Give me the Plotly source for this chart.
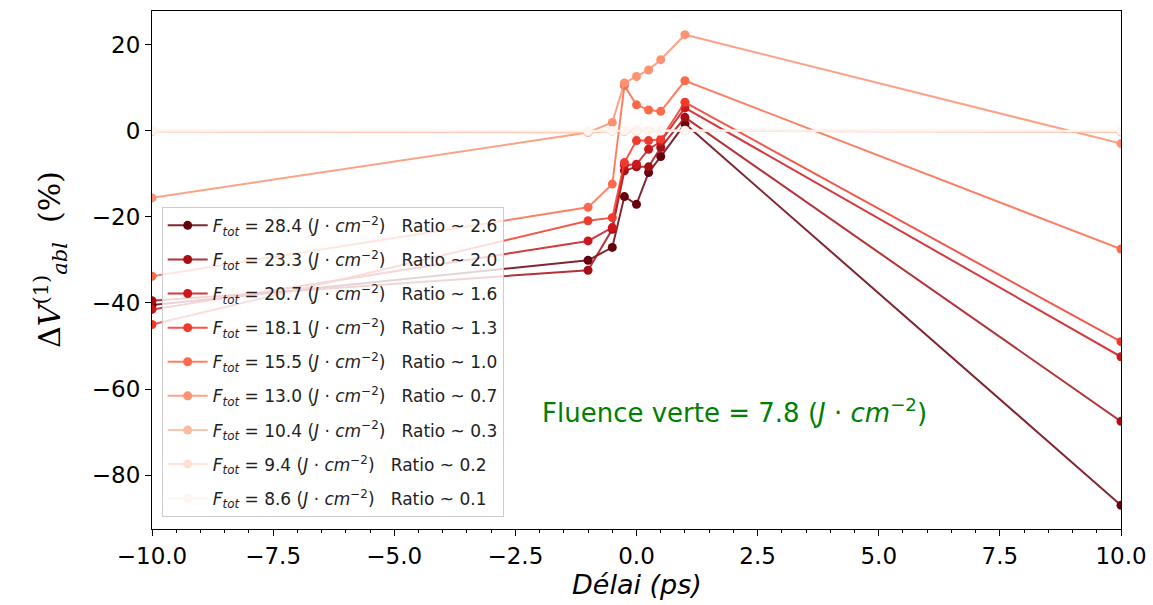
import plotly.graph_objects as go

# délai pompe-sonde (ps)
delai = [-10, -1, -0.5, -0.25, 0, 0.25, 0.5, 1, 10]

# variation du volume ablaté (%) pour chaque fluence totale
f_284 = [-40.5, -30.1, -27.1, -15.3, -17.1, -9.7, -6.0, 1.6, -87.0]
f_233 = [-39.5, -32.4, -22.9, -9.3, -8.4, -8.4, -3.9, 3.1, -67.5]
f_207 = [-41.5, -25.6, -22.5, -8.0, -7.8, -4.3, -2.5, 5.3, -52.5]
f_181 = [-45.0, -20.9, -20.2, -7.4, -2.3, -2.3, -2.0, 6.6, -49.0]
f_155 = [-33.8, -17.8, -12.4, 10.5, 6.0, 4.8, 4.5, 11.6, -27.5]
f_130 = [-15.6, -0.4, 1.9, 11.1, 12.6, 14.1, 16.5, 22.3, -3.0]
f_104 = [-0.2, -0.4, -0.1, -0.2, -0.1, 0.0, -0.1, 0.0, -0.3]
f_094 = [0.0, -0.2, 0.0, 0.0, 0.1, 0.0, 0.0, 0.1, -0.1]
f_086 = [0.0, 0.0, 0.0, 0.0, 0.0, 0.0, 0.0, 0.0, 0.0]

fluences = ["28.4", "23.3", "20.7", "18.1", "15.5", "13.0", "10.4", "9.4", "8.6"]
ratios = ["2.6", "2.0", "1.6", "1.3", "1.0", "0.7", "0.3", "0.2", "0.1"]
series = [f_284, f_233, f_207, f_181, f_155, f_130, f_104, f_094, f_086]

# palette Reds (9 classes), du plus foncé au plus clair
colors = ["#67000d", "#a50f15", "#cb181d", "#ef3b2c", "#fb6a4a",
          "#fc9272", "#fcbba1", "#fee0d2", "#fff5f0"]


def rgba(hex_color, a):
    h = hex_color.lstrip("#")
    r, g, b = int(h[0:2], 16), int(h[2:4], 16), int(h[4:6], 16)
    return "rgba(%d,%d,%d,%s)" % (r, g, b, a)


fig = go.Figure()
for i, (f, rt, y) in enumerate(zip(fluences, ratios, series)):
    name = ("<i>F</i><sub><i>tot</i></sub> = %s (<i>J</i> · <i>cm</i><sup>−2</sup>)"
            "   Ratio ~ %s" % (f, rt))
    fig.add_trace(go.Scatter(
        x=delai, y=y, name=name, mode="lines+markers",
        legendgroup="g%d" % i,
        line=dict(color=rgba(colors[i], 0.85), width=2),
        marker=dict(color=colors[i], size=9),
    ))

fig.add_annotation(
    x=-2, y=-65, xref="x", yref="y", xanchor="left", yanchor="middle",
    text="Fluence verte = 7.8 (<i>J</i> · <i>cm</i><sup>−2</sup>)",
    showarrow=False, font=dict(color="#008000", size=26, family="DejaVu Sans"),
)
fig.add_annotation(
    x=-0.105, y=0.52, xref="paper", yref="paper", xanchor="center", yanchor="middle",
    text="Δ<i>V</i><sup>(1)</sup><sub><i>abl</i></sub>  (%)", textangle=-90,
    showarrow=False, font=dict(size=30, family="DejaVu Serif", color="black"),
)
fig.add_annotation(
    x=0.5, y=-0.108, xref="paper", yref="paper", xanchor="center", yanchor="middle",
    text="<i>Délai (ps)</i>", showarrow=False,
    font=dict(size=27, family="DejaVu Sans", color="black"),
)

fig.update_layout(
    width=1153, height=605,
    margin=dict(l=152, r=32, t=11, b=76),
    paper_bgcolor="white", plot_bgcolor="white",
    font=dict(family="DejaVu Sans", color="black"),
    showlegend=True,
    legend=dict(
        x=0.01, y=0.622, xanchor="left", yanchor="top",
        bgcolor="rgba(255,255,255,0.8)", bordercolor="#cccccc", borderwidth=1,
        font=dict(size=17, family="DejaVu Sans", color="#222222"),
        tracegroupgap=9, itemwidth=40,
    ),
    xaxis=dict(
        range=[-10, 10], dtick=2.5, tickformat=".1f", automargin=False,
        showgrid=False, zeroline=False,
        showline=True, mirror=True, linecolor="black", linewidth=1,
        ticks="outside", ticklen=6, tickcolor="black",
        tickfont=dict(size=23),
        minor=dict(dtick=0.5, ticks="outside", ticklen=3, tickcolor="black"),
    ),
    yaxis=dict(
        range=[-92.5, 27.8], dtick=20, automargin=False,
        showgrid=False, zeroline=False,
        showline=True, mirror=True, linecolor="black", linewidth=1,
        ticks="outside", ticklen=6, tickcolor="black",
        tickfont=dict(size=23),
    ),
)

# la page du navigateur a une marge de 8 px par défaut
fig.write_html("out.html", config={"displayModeBar": False},
               post_script="document.body.style.margin='0';")
